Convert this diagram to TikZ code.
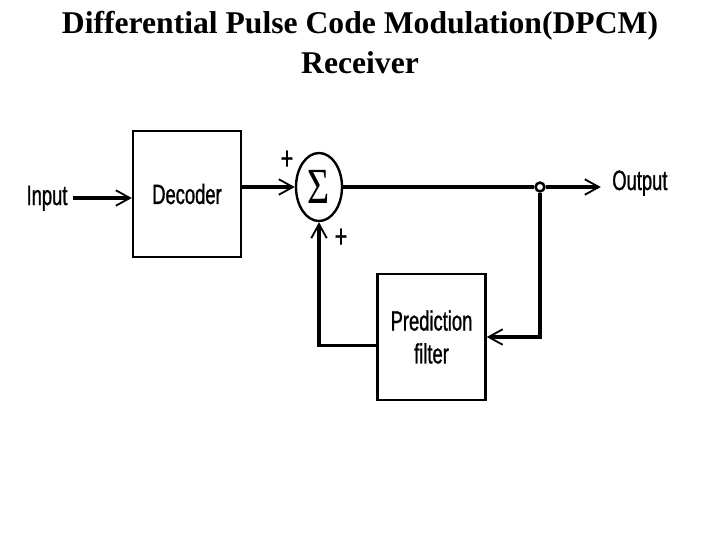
\documentclass[tikz,border=0pt]{standalone}
\usepackage{fontspec}
\setmainfont{Liberation Serif}
\newfontfamily\lblfont[FakeStretch=0.66,FakeBold=1]{Liberation Sans}
\usetikzlibrary{shapes.geometric,arrows.meta}
\tikzstyle{blk}=[draw, line width=1.7pt, minimum width=2.7cm, minimum height=3.15cm, align=center, font=\lblfont\fontsize{19.8}{23.4}\selectfont]
\tikzstyle{sig}=[line width=2.3pt, -{Straight Barb[length=10pt,width=11pt,line width=1.3pt]}]
\tikzstyle{lbl}=[inner sep=0pt, font=\lblfont\fontsize{19.8}{22}\selectfont]
\tikzstyle{ttl}=[inner sep=0pt, anchor=base, font=\bfseries\fontsize{22.5}{28}\selectfont]

\begin{document}
\begin{tikzpicture}[x=0.025cm,y=-0.025cm]
\useasboundingbox (0,0) rectangle (720,540);
\node[ttl] (ttla) at (360,33) {Differential Pulse Code Modulation(DPCM)};
\node[ttl] (ttlb) at (360,73) {Receiver};
\node[lbl, anchor=base] (in) at (47,205) {Input};
\node[blk] (dec) at (187,194) {Decoder};
\node[draw, ellipse, line width=1.7pt, minimum width=1.15cm, minimum height=1.7cm, inner sep=0pt] (sum) at (319,187) {\fontsize{36}{36}\selectfont\scalebox{0.75}[1]{Σ}};
\node[draw, circle, fill=white, line width=1.8pt, minimum size=0.22cm, inner sep=0pt] (jn) at (540,187) {};
\node[lbl, anchor=base west] (out) at (612,190) {Output};
\node[blk] (filt) at (431.5,337) {Prediction\\filter};
\node[lbl, font=\lblfont\fontsize{23}{23}\selectfont] (pa) at (287,160) {+};
\node[lbl, font=\lblfont\fontsize{23}{23}\selectfont] (pb) at (341,238) {+};
\draw[sig] ([xshift=4pt]in.east |- 0,198) -- (dec.west |- 0,198);
\draw[sig] (dec.east |- sum) -- (sum);
\draw[line width=2.3pt] (sum) -- (jn);
\draw[sig] (jn) -- ([xshift=-8pt]out.west |- jn);
\draw[sig] (jn) |- (filt.east);
\draw[sig] ([yshift=-6pt]filt.west) -| (sum.south);
\end{tikzpicture}
\end{document}
